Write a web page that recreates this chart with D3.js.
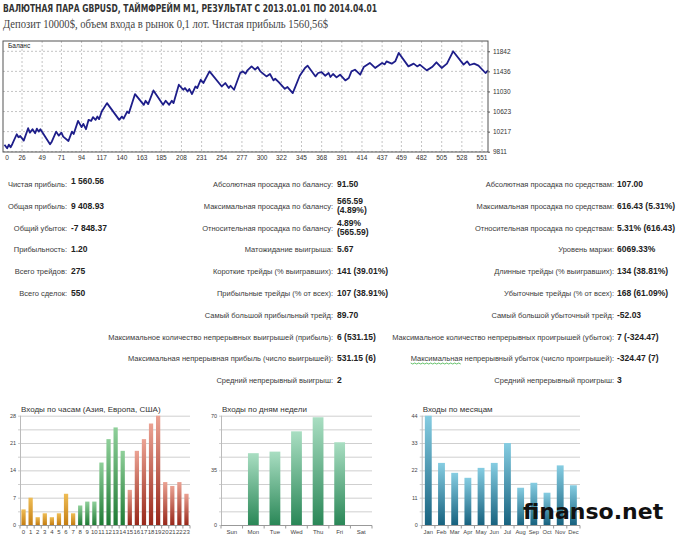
<!DOCTYPE html>
<html>
<head>
<meta charset="utf-8">
<script src="https://cdn.jsdelivr.net/npm/d3@7"></script>
<style>
  body { margin: 0; background: #fff; }
  svg { display: block; font-family: "Liberation Sans", Arial, sans-serif; }
</style>
</head>
<body>
<div id="vis"></div>
<script>
// report chart: GBPUSD M1 backtest
const WIDTH = 680, HEIGHT = 539;

const TITLE = 'ВАЛЮТНАЯ ПАРА GBPUSD, ТАЙМФРЕЙМ M1, РЕЗУЛЬТАТ С 2013.01.01 ПО 2014.04.01';
const SUBTITLE = 'Депозит 10000$, объем входа в рынок 0,1 лот. Чистая прибыль 1560,56$';

// balance curve (trade number, balance)
const balanceTrades = [6, 9, 11, 13, 15, 20, 22, 24, 28, 33, 35, 38, 41, 43, 45, 47, 58, 60, 65, 68, 71, 73, 79, 83, 85, 90, 94, 96, 99, 102, 105, 107, 110, 112, 114, 117, 123, 137, 140, 142, 146, 148, 155, 165, 167, 170, 176, 187, 190, 193, 194, 197, 199, 205, 210, 212, 215, 217, 220, 224, 226, 230, 233, 240, 254, 258, 262, 264, 268, 275, 278, 281, 283, 288, 292, 295, 298, 305, 309, 313, 315, 319, 326, 329, 335, 343, 349, 352, 361, 364, 368, 372, 376, 378, 381, 385, 389, 395, 399, 402, 406, 412, 416, 423, 429, 437, 440, 442, 448, 452, 456, 467, 473, 477, 480, 488, 494, 499, 505, 511, 518, 530, 534, 537, 542, 547, 555, 558];
const balanceValues = [9950, 9880, 9953, 9900, 9967, 10164, 10103, 10130, 10035, 10286, 10197, 10266, 10185, 10278, 10217, 10266, 9961, 10014, 10217, 10136, 10197, 10116, 10028, 10217, 10170, 10435, 10307, 10374, 10266, 10455, 10435, 10510, 10455, 10522, 10469, 10623, 10794, 10455, 10522, 10481, 10623, 10591, 10977, 10759, 10841, 10774, 11050, 10759, 10841, 10780, 10759, 10841, 10794, 11166, 11064, 11098, 11030, 11078, 10977, 11131, 11098, 11267, 11200, 11436, 11131, 11200, 11098, 11145, 11064, 11403, 11436, 11389, 11450, 11537, 11470, 11524, 11436, 11334, 11383, 11253, 11287, 11220, 11084, 11119, 10997, 11348, 11505, 11551, 11334, 11403, 11423, 11348, 11403, 11322, 11383, 11314, 11369, 11253, 11302, 11436, 11470, 11369, 11524, 11606, 11505, 11606, 11578, 11639, 11592, 11639, 11809, 11537, 11592, 11537, 11572, 11456, 11524, 11619, 11505, 11592, 11842, 11572, 11639, 11565, 11592, 11551, 11403, 11456];
const balanceTicks = [9811, 10217, 10623, 11030, 11436, 11842];
const tradeTicks = [0, 26, 49, 71, 94, 117, 140, 163, 185, 208, 231, 254, 277, 300, 322, 345, 368, 391, 414, 437, 459, 482, 505, 528, 551];

// statistics table
const col1Labels = ['Чистая прибыль:', 'Общая прибыль:', 'Общий убыток:', 'Прибыльность:', 'Всего трейдов:', 'Всего сделок:'];
const col1Values = ['1 560.56', '9 408.93', '-7 848.37', '1.20', '275', '550'];
const col2Labels = ['Абсолютная просадка по балансу:', 'Максимальная просадка по балансу:', 'Относительная просадка по балансу:', 'Матожидание выигрыша:', 'Короткие трейды (% выигравших):', 'Прибыльные трейды (% от всех):', 'Самый большой прибыльный трейд:', 'Максимальное количество непрерывных выигрышей (прибыль):', 'Максимальная непрерывная прибыль (число выигрышей):', 'Средний непрерывный выигрыш:'];
const col2Values = [['91.50'], ['565.59', '(4.89%)'], ['4.89%', '(565.59)'], ['5.67'], ['141 (39.01%)'], ['107 (38.91%)'], ['89.70'], ['6 (531.15)'], ['531.15 (6)'], ['2']];
const col3Labels = ['Абсолютная просадка по средствам:', 'Максимальная просадка по средствам:', 'Относительная просадка по средствам:', 'Уровень маржи:', 'Длинные трейды (% выигравших):', 'Убыточные трейды (% от всех):', 'Самый большой убыточный трейд:', 'Максимальное количество непрерывных проигрышей (убыток):', 'Максимальная непрерывный убыток (число проигрышей):', 'Средний непрерывный проигрыш:'];
const col3Values = ['107.00', '616.43 (5.31%)', '5.31% (616.43)', '6069.33%', '134 (38.81%)', '168 (61.09%)', '-52.03', '7 (-324.47)', '-324.47 (7)', '3'];
const rowY = [184, 205.7, 227.5, 249, 271, 293, 315, 336.5, 358, 380];

// entries histograms
const hourLabels = ['0','1','2','3','4','5','6','7','8','9','10','11','12','13','14','15','16','17','18','19','20','21','22','23'];
const hourValues = [4, 7, 2, 3, 2, 3, 8, 3, 5, 6, 6, 16, 22, 25, 19, 9, 19, 22, 26, 28, 11, 10, 11, 8];
const hourSession = ['asia','asia','asia','asia','asia','asia','asia','asia','eu','eu','eu','eu','eu','eu','eu','us','us','us','us','us','us','us','us','us'];
const hourTicks = [0, 7, 14, 21, 28];
const dayLabels = ['Sun', 'Mon', 'Tue', 'Wed', 'Thu', 'Fri', 'Sat'];
const dayValues = [0, 46, 47, 60, 69, 53, 0];
const dayTicks = [0, 35, 70];
const monthLabels = ['Jan', 'Feb', 'Mar', 'Apr', 'May', 'Jun', 'Jul', 'Aug', 'Sep', 'Oct', 'Nov', 'Dec'];
const monthValues = [44, 25, 21, 19, 23, 25, 33, 15, 17, 13, 24, 16];
const monthTicks = [0, 11, 22, 33, 44];

const svg = d3.select('#vis').append('svg')
    .attr('width', WIDTH)
    .attr('height', HEIGHT);

// gradients for bars
const defs = svg.append('defs');
const GRADS = {
    asia: ['#efbd55', '#c47d12'],
    eu: ['#8fd09a', '#1f7a34'],
    us: ['#eba293', '#98281a'],
    day: ['#a9dec2', '#2a8757'],
    month: ['#86cde2', '#17627f']
};
Object.keys(GRADS).forEach(k => {
    const g = defs.append('linearGradient').attr('id', 'g-' + k)
        .attr('x1', 0).attr('y1', 0).attr('x2', 0).attr('y2', 1);
    g.append('stop').attr('offset', '0%').attr('stop-color', GRADS[k][0]);
    g.append('stop').attr('offset', '100%').attr('stop-color', GRADS[k][1]);
});

// header
svg.append('text')
    .attr('x', 3).attr('y', 11.7)
    .attr('font-family', '"DejaVu Sans Condensed", "DejaVu Sans", sans-serif')
    .attr('font-weight', 'bold')
    .attr('font-size', 10.5)
    .attr('fill', '#333')
    .attr('textLength', 374).attr('lengthAdjust', 'spacingAndGlyphs')
    .text(TITLE);
svg.append('text')
    .attr('x', 3).attr('y', 27.5)
    .attr('font-family', '"Liberation Serif", "Times New Roman", serif')
    .attr('font-size', 12)
    .attr('fill', '#444')
    .attr('textLength', 325).attr('lengthAdjust', 'spacingAndGlyphs')
    .text(SUBTITLE);

// ---- balance chart ----
const BAL = {left: 3, right: 488, top: 41, bottom: 152};
const X_BAL = d3.scaleLinear().domain([26, 551]).range([22, 482]);
const Y_BAL = d3.scaleLinear().domain([9811, 11842]).range([151.7, 51.3]);

const bal = svg.append('g');
bal.selectAll('.vgrid')
    .data(tradeTicks.filter(t => X_BAL(t) > BAL.left + 1))
    .enter().append('line')
        .attr('x1', d => X_BAL(d)).attr('x2', d => X_BAL(d))
        .attr('y1', BAL.top).attr('y2', BAL.bottom)
        .attr('stroke', '#c4c4c4').attr('stroke-dasharray', '2,2');
bal.selectAll('.hgrid')
    .data(balanceTicks)
    .enter().append('line')
        .attr('x1', BAL.left).attr('x2', BAL.right)
        .attr('y1', d => Y_BAL(d)).attr('y2', d => Y_BAL(d))
        .attr('stroke', '#c4c4c4').attr('stroke-dasharray', '2,2');

const balLine = d3.line()
    .x((d, i) => X_BAL(balanceTrades[i]))
    .y(d => Y_BAL(d));
bal.append('path')
    .datum(balanceValues)
    .attr('d', balLine)
    .attr('fill', 'none')
    .attr('stroke', '#1e1e8a')
    .attr('stroke-width', 1.8)
    .attr('stroke-linejoin', 'round');

bal.append('rect')
    .attr('x', BAL.left).attr('y', BAL.top)
    .attr('width', BAL.right - BAL.left).attr('height', BAL.bottom - BAL.top)
    .attr('fill', 'none').attr('stroke', '#555');

bal.append('text').attr('x', 8).attr('y', 48)
    .attr('font-size', 6.5).attr('fill', '#222').text('Баланс');

bal.append('g')
    .attr('transform', 'translate(' + BAL.right + ',0)')
    .call(d3.axisRight(Y_BAL).tickValues(balanceTicks).tickSize(2).tickPadding(3).tickFormat(d => d))
    .call(g => g.select('.domain').remove())
    .call(g => g.selectAll('line').attr('stroke', '#555'))
    .call(g => g.selectAll('text').attr('font-size', 6.5).attr('fill', '#333').attr('font-family', '"Liberation Sans", sans-serif'));

bal.selectAll('.xlab')
    .data(tradeTicks)
    .enter().append('text')
        .attr('x', d => Math.max(X_BAL(d), 7))
        .attr('y', 160)
        .attr('text-anchor', 'middle')
        .attr('font-size', 6.5).attr('fill', '#333')
        .text(d => d);

// ---- statistics ----
const stats = svg.append('g').attr('fill', '#333');
function statColumn(labels, values, labelRight, valueLeft) {
    labels.forEach((lab, i) => {
        const t = stats.append('text')
            .attr('x', labelRight).attr('y', rowY[i] + 3)
            .attr('text-anchor', 'end')
            .attr('font-size', 7.5).attr('fill', '#3a3a3a')
            .text(lab);
        // spell-check squiggle under the misspelled word
        if (lab.indexOf('Максимальная непрерывный') === 0) {
            const node = t.node();
            const w = node.getSubStringLength(0, 12);
            const x0 = labelRight - node.getComputedTextLength();
            const pts = d3.range(0, Math.floor(w / 2) + 1).map(k => [x0 + k * 2, rowY[i] + 5 + (k % 2)]);
            stats.append('path').attr('d', d3.line()(pts))
                .attr('fill', 'none').attr('stroke', '#3cb043').attr('stroke-width', 0.8);
        }
        const v = Array.isArray(values[i]) ? values[i] : [values[i]];
        v.forEach((line, j) => {
            let off = v.length === 1 ? 0 : (j === 0 ? -4.5 : 4.5);
            if (i === 0 && labelRight < 100) off = -3;
            stats.append('text')
                .attr('x', valueLeft).attr('y', rowY[i] + 3 + off)
                .attr('font-size', 8.5).attr('font-weight', 'bold').attr('fill', '#222')
                .text(line);
        });
    });
}
statColumn(col1Labels, col1Values, 67, 71);
statColumn(col2Labels, col2Values, 333, 337);
statColumn(col3Labels, col3Values, 614, 617);

// ---- histograms ----
function barChart(o) {
    const g = svg.append('g');
    const y = d3.scaleLinear().domain([0, o.max]).range([525, 415.7]);
    const x = d3.scaleBand().domain(o.labels).range([o.x0, o.x1]).paddingInner(o.pad).paddingOuter(o.pad / 2);
    const grid = d3.range(0, o.max + 0.001, o.max / 8);
    g.selectAll('.grid').data(grid).enter().append('line')
        .attr('x1', o.x0 - 2).attr('x2', o.x1)
        .attr('y1', d => y(d) + 0.5).attr('y2', d => y(d) + 0.5)
        .attr('stroke', '#cfcfcf');
    g.append('line')
        .attr('x1', o.x0 + 0.5).attr('x2', o.x0 + 0.5)
        .attr('y1', 415.7).attr('y2', 525)
        .attr('stroke', '#bbb');
    g.selectAll('.bar').data(o.values).enter().append('rect')
        .attr('x', (d, i) => x(o.labels[i]))
        .attr('width', x.bandwidth())
        .attr('y', d => y(d))
        .attr('height', d => 525 - y(d))
        .attr('fill', (d, i) => 'url(#g-' + o.color(i) + ')');
    g.append('line')
        .attr('x1', o.x0).attr('x2', o.x1)
        .attr('y1', 525.5).attr('y2', 525.5)
        .attr('stroke', '#999');
    g.selectAll('.xt').data(o.labels.concat([null])).enter().append('line')
        .attr('x1', (d, i) => o.x0 + i * x.step()).attr('x2', (d, i) => o.x0 + i * x.step())
        .attr('y1', 525.5).attr('y2', 528.5)
        .attr('stroke', '#999');
    g.selectAll('.xl').data(o.labels).enter().append('text')
        .attr('x', d => x(d) + x.bandwidth() / 2)
        .attr('y', 533.5)
        .attr('text-anchor', 'middle')
        .attr('font-size', o.xfs).attr('fill', '#444')
        .text(d => d);
    g.selectAll('.yl').data(o.ticks).enter().append('text')
        .attr('x', o.x0 - 4).attr('y', d => y(d) + 2)
        .attr('text-anchor', 'end')
        .attr('font-size', 5.5).attr('fill', '#444')
        .text(d => d);
    g.append('text')
        .attr('x', o.x0 + 1).attr('y', 411.5)
        .attr('font-size', 8).attr('fill', '#333')
        .text(o.title);
}
barChart({labels: hourLabels, values: hourValues, max: 28, ticks: hourTicks, x0: 20, x1: 190, pad: 0.4,
    color: i => hourSession[i], title: 'Входы по часам (Азия, Европа, США)', xfs: 6});
barChart({labels: dayLabels, values: dayValues, max: 70, ticks: dayTicks, x0: 221, x1: 372, pad: 0.5,
    color: () => 'day', title: 'Входы по дням недели', xfs: 6});
barChart({labels: monthLabels, values: monthValues, max: 44, ticks: monthTicks, x0: 421.7, x1: 580, pad: 0.48,
    color: () => 'month', title: 'Входы по месяцам', xfs: 5.8});

// watermark
svg.append('text')
    .attr('x', 523).attr('y', 519)
    .attr('font-family', '"DejaVu Sans", sans-serif')
    .attr('font-weight', 'bold')
    .attr('font-size', 22)
    .attr('fill', '#111')
    .text('finanso.net');
</script>
</body>
</html>
